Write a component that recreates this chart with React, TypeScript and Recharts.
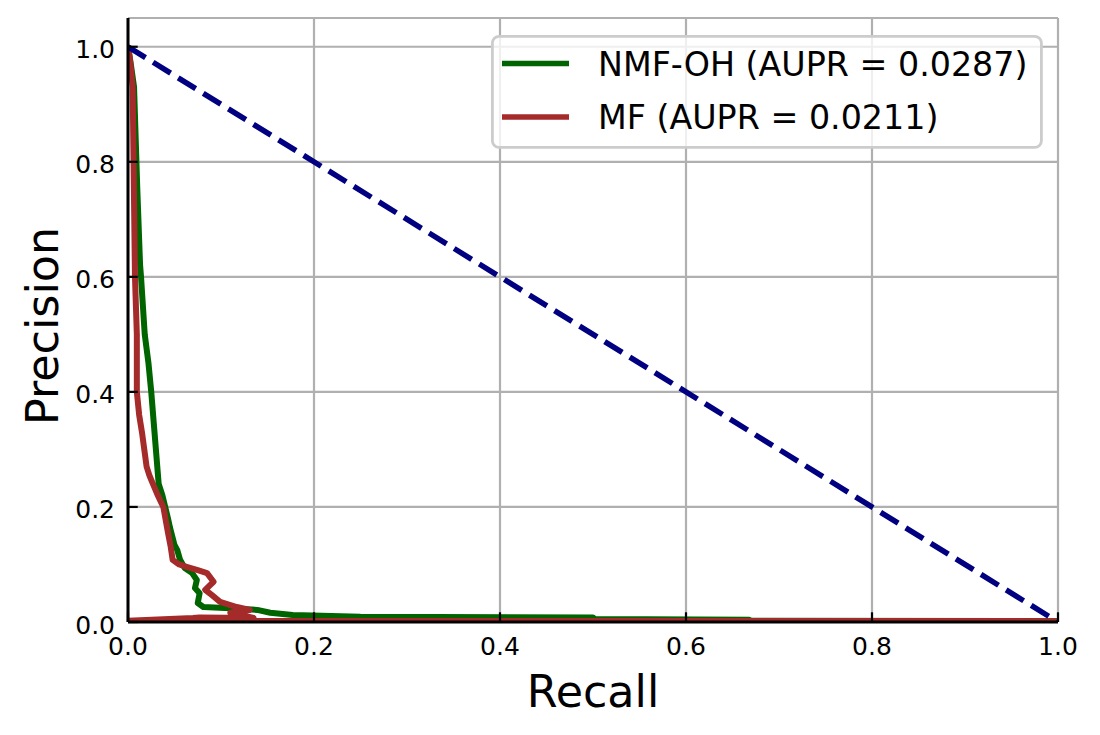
import { LineChart, Line, XAxis, YAxis, CartesianGrid, Legend } from "recharts";

const FONT = "'DejaVu Sans', Verdana, sans-serif";

const xTicks = [0, 0.2, 0.4, 0.6, 0.8, 1.0];
const yTicks = [0, 0.2, 0.4, 0.6, 0.8, 1.0];

const legendLabels = ["NMF-OH (AUPR = 0.0287)", "MF (AUPR = 0.0211)"];

// NMF-OH curve (green)
const nmfRecall = [
  0, 0.003, 0.0065, 0.0099, 0.013, 0.014, 0.016, 0.018, 0.022, 0.025, 0.028,
  0.03, 0.033, 0.037, 0.04, 0.043, 0.045, 0.05, 0.053, 0.056, 0.061, 0.069,
  0.074, 0.072, 0.077, 0.075, 0.081, 0.11, 0.139, 0.153, 0.177, 0.25, 0.5,
  0.502, 0.668, 0.67, 1.0,
];
const nmfPrecision = [
  1.0, 0.97, 0.93, 0.757, 0.62, 0.6, 0.55, 0.5, 0.45, 0.4, 0.34, 0.3, 0.24,
  0.22, 0.2, 0.18, 0.165, 0.134, 0.125, 0.108, 0.094, 0.085, 0.073, 0.059,
  0.05, 0.033, 0.026, 0.024, 0.021, 0.016, 0.012, 0.009, 0.008, 0.005, 0.004,
  0.002, 0.0015,
];

// MF curve (brown)
const mfRecall = [
  0, 0.002, 0.005, 0.0075, 0.0085, 0.0095, 0.0095, 0.012, 0.015, 0.02, 0.023,
  0.026, 0.031, 0.035, 0.038, 0.043, 0.046, 0.048, 0.055, 0.063, 0.075, 0.085,
  0.092, 0.083, 0.09, 0.099, 0.117, 0.131, 0.11, 0.135, 0.077, 0.07, 0, 1.0,
];
const mfPrecision = [
  1.0, 0.98, 0.93, 0.6, 0.55, 0.5, 0.4, 0.36, 0.33, 0.27, 0.255, 0.243, 0.224,
  0.21, 0.2, 0.155, 0.13, 0.108, 0.1, 0.096, 0.09, 0.085, 0.07, 0.056, 0.047,
  0.035, 0.026, 0.021, 0.016, 0.007, 0.008, 0.007, 0.002, 0.0015,
];

// chance diagonal
const diagRecall = [0, 1];
const diagPrecision = [1, 0];

const toPoints = (r: number[], p: number[]) =>
  r.map((v, i) => ({ r: v, p: p[i] }));

const nmfData = toPoints(nmfRecall, nmfPrecision);
const mfData = toPoints(mfRecall, mfPrecision);
const diagData = toPoints(diagRecall, diagPrecision);

const GREEN = "#006400";
const BROWN = "#a52a2a";
const NAVY = "#000080";

const XTick = (props: any) => {
  const { x, y, payload } = props;
  return (
    <g>
      <line x1={x} x2={x} y1={y} y2={y - 9.7} stroke="#000" strokeWidth={2.2} />
      <text x={x} y={y + 33} textAnchor="middle" fontSize={25} fontFamily={FONT} fill="#000">
        {Number(payload.value).toFixed(1)}
      </text>
    </g>
  );
};

const YTick = (props: any) => {
  const { x, y, payload } = props;
  return (
    <g>
      <line x1={x} x2={x + 9.7} y1={y} y2={y} stroke="#000" strokeWidth={2.2} />
      <text x={x - 13} y={y + 11.5} textAnchor="end" fontSize={25} fontFamily={FONT} fill="#000">
        {Number(payload.value).toFixed(1)}
      </text>
    </g>
  );
};

const LegendBox = () => (
  <svg width={552} height={114} style={{ display: "block" }}>
    <rect
      x={1.4}
      y={1.4}
      width={549}
      height={111}
      rx={6.7}
      fill="rgba(255,255,255,0.8)"
      stroke="#cccccc"
      strokeWidth={2.8}
    />
    {[GREEN, BROWN].map((c, i) => (
      <g key={i}>
        <line x1={11} x2={78} y1={28.6 + i * 53.4} y2={28.6 + i * 53.4} stroke={c} strokeWidth={5.5} />
        <text x={107} y={40.8 + i * 53.4} fontSize={33.3} fontFamily={FONT} fill="#000">
          {legendLabels[i]}
        </text>
      </g>
    ))}
  </svg>
);

export default function App() {
  return (
    <div style={{ position: "absolute", left: 0, top: 0, width: 1100, height: 735, background: "#fff" }}>
      <LineChart width={1100} height={735} margin={{ top: 18, right: 42, bottom: 0, left: 0 }}>
        <CartesianGrid stroke="#b0b0b0" strokeWidth={2.2} />
        <XAxis
          dataKey="r"
          type="number"
          domain={[0, 1]}
          ticks={xTicks}
          height={113}
          tickSize={0}
          tickMargin={0}
          tickLine={false}
          tick={<XTick />}
          axisLine={{ stroke: "#000", strokeWidth: 3 }}
          allowDataOverflow
          label={{
            content: (props: any) => {
              const vb = props.viewBox || { x: 128, width: 930, y: 622 };
              return (
                <text
                  x={vb.x + vb.width / 2}
                  y={707}
                  textAnchor="middle"
                  fontSize={44.4}
                  fontFamily={FONT}
                  fill="#000"
                >
                  Recall
                </text>
              );
            },
          }}
        />
        <XAxis
          xAxisId="top"
          orientation="top"
          type="number"
          domain={[0, 1]}
          height={0}
          tick={false}
          tickLine={false}
          axisLine={{ stroke: "#000", strokeWidth: 3 }}
        />
        <YAxis
          type="number"
          domain={[0, 1.05]}
          ticks={yTicks}
          width={128}
          tickSize={0}
          tickMargin={0}
          tickLine={false}
          tick={<YTick />}
          axisLine={{ stroke: "#000", strokeWidth: 3 }}
          allowDataOverflow
          label={{
            content: () => (
              <text
                x={58}
                y={326}
                transform="rotate(-90, 58, 326)"
                textAnchor="middle"
                fontSize={44.4}
                fontFamily={FONT}
                fill="#000"
              >
                Precision
              </text>
            ),
          }}
        />
        <YAxis
          yAxisId="right"
          orientation="right"
          type="number"
          domain={[0, 1.05]}
          width={0}
          tick={false}
          tickLine={false}
          axisLine={{ stroke: "#000", strokeWidth: 3 }}
        />
        <Line
          data={nmfData}
          dataKey="p"
          name={legendLabels[0]}
          stroke={GREEN}
          strokeWidth={6}
          strokeLinejoin="round"
          dot={false}
          activeDot={false}
          isAnimationActive={false}
        />
        <Line
          data={mfData}
          dataKey="p"
          name={legendLabels[1]}
          stroke={BROWN}
          strokeWidth={6}
          strokeLinejoin="round"
          dot={false}
          activeDot={false}
          isAnimationActive={false}
        />
        <Line
          data={diagData}
          dataKey="p"
          stroke={NAVY}
          strokeWidth={5.5}
          strokeDasharray="20.6 8.9"
          dot={false}
          activeDot={false}
          legendType="none"
          isAnimationActive={false}
        />
        <Legend
          layout="vertical"
          align="center"
          verticalAlign="middle"
          content={() => <LegendBox />}
          wrapperStyle={{ position: "absolute", left: 491, top: 35, width: 552, height: 114 }}
        />
      </LineChart>
    </div>
  );
}
